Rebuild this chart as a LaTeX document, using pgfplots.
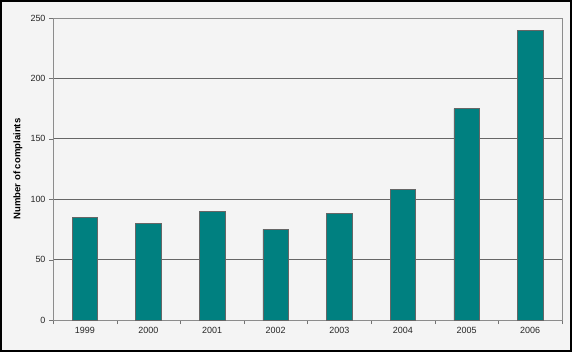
\documentclass[border=0pt]{standalone}
\usepackage{pgfplots}
\pgfplotsset{compat=1.18}
\usepackage{fontspec}
\setmainfont{Liberation Sans}
\definecolor{bg}{RGB}{244,244,244}
\definecolor{barteal}{RGB}{0,128,128}
\begin{document}
\begin{tikzpicture}[x=1bp,y=1bp]
\fill[bg] (0,0) rectangle (572,352);
\draw[black, line width=2bp] (1,1) rectangle (571,351);
\begin{axis}[
  at={(53bp,32bp)}, anchor=south west,
  scale only axis, width=509bp, height=302bp,
  ymin=0, ymax=250, ytick={0,50,...,250},
  xmin=-0.5, xmax=7.5,
  xtick={0,...,7},
  xticklabels={1999,2000,2001,2002,2003,2004,2005,2006},
  minor xtick={-0.5,0.5,...,7.5},
  major x tick style={draw=none},
  xtick pos=bottom, ytick pos=left,
  tick align=outside,
  major tick length=4bp, minor tick length=4bp,
  tick style={black!55},
  ymajorgrids, grid style={black!60, line width=0.8bp},
  axis line style={black!45},
  axis background/.style={fill=bg},
  ybar, bar width=25.5bp,
  /pgf/number format/assume math mode=true,
  tick label style={font=\fontsize{9}{10}\selectfont, text=black!85},
  ylabel={Number of complaints},
  ylabel style={at={(axis description cs:-0.0688,0.5)}, anchor=center, font=\fontsize{9.6}{11}\selectfont\bfseries},
]
\addplot[fill=barteal, draw=black!60, line width=0.6bp] coordinates {
(0,85) (1,80) (2,90) (3,75) (4,88) (5,108) (6,175) (7,240)};
\end{axis}
\end{tikzpicture}
\end{document}
